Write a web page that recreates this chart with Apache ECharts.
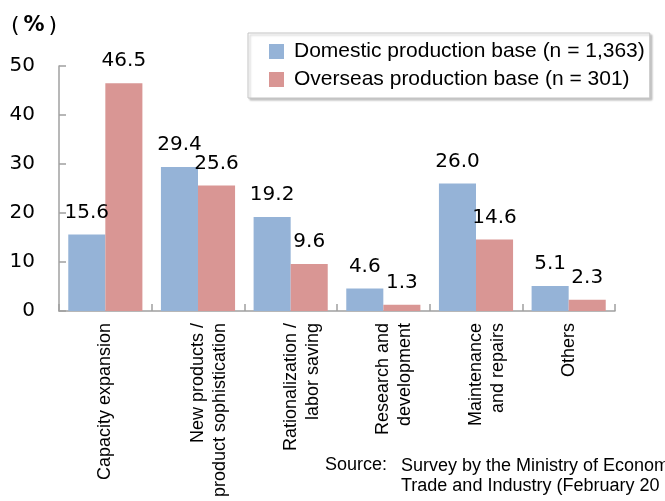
<!DOCTYPE html>
<html>
<head>
<meta charset="utf-8">
<script src="https://cdn.jsdelivr.net/npm/echarts@6/dist/echarts.min.js"></script>
<style>
  html, body { margin: 0; padding: 0; background: #fff; }
  #chart { width: 665px; height: 501px; }
</style>
</head>
<body>
<div id="chart"></div>
<script>
// Reasons for capital investment, by production base (%)
const categories = [
  'Capacity expansion',
  'New products /\nproduct sophistication',
  'Rationalization /\nlabor saving',
  'Research and\ndevelopment',
  'Maintenance\nand repairs',
  'Others'
];
const domestic = [15.6, 29.4, 19.2, 4.6, 26.0, 5.1];
const overseas = [46.5, 25.6, 9.6, 1.3, 14.6, 2.3];
const seriesNames = [
  'Domestic production base (n = 1,363)',
  'Overseas production base (n = 301)'
];
const yTicks = { min: 0, max: 50, interval: 10 };

const BLUE = '#95b3d7';
const RED = '#d99694';
const AXIS = '#a0a0a0';
const NUM = '"DejaVu Sans", sans-serif';
const SANS = '"Liberation Sans", Arial, sans-serif';

const chart = echarts.init(document.getElementById('chart'), null, { renderer: 'canvas' });

const valueLabel = {
  show: true,
  position: 'top',
  distance: 12,
  color: '#000',
  fontFamily: NUM,
  fontSize: 20,
  formatter: p => p.value.toFixed(1)
};

chart.setOption({
  animation: false,
  backgroundColor: '#fff',
  grid: { left: 59, right: 50, top: 66, bottom: 190, containLabel: false },
  legend: {
    orient: 'vertical',
    left: 248,
    top: 33,
    padding: [8, 5, 8, 21],
    itemGap: 7,
    itemWidth: 15,
    itemHeight: 15,
    icon: 'rect',
    borderColor: '#c4c4c4',
    borderWidth: 1,
    backgroundColor: '#fff',
    shadowColor: 'rgba(0,0,0,0.22)',
    shadowBlur: 2,
    shadowOffsetX: 2,
    shadowOffsetY: 2,
    textStyle: { fontFamily: SANS, fontSize: 21, color: '#000', padding: [0, 0, 0, 5] },
    data: seriesNames
  },
  xAxis: {
    type: 'category',
    data: categories,
    axisLine: { lineStyle: { color: AXIS, width: 1.5 } },
    axisTick: { show: true, inside: true, length: 7, lineStyle: { color: AXIS, width: 1.5 } },
    axisLabel: {
      interval: 0,
      rotate: 90,
      margin: 12,
      color: '#000',
      fontFamily: SANS,
      fontSize: 18,
      lineHeight: 22,
      // two-line labels keep their first line on the category centre
      formatter: v => (v.indexOf('\n') >= 0 ? '\n' + v : v)
    },
    splitLine: { show: false }
  },
  yAxis: {
    type: 'value',
    min: yTicks.min,
    max: yTicks.max,
    interval: yTicks.interval,
    axisLine: { show: true, lineStyle: { color: AXIS, width: 1.5 } },
    axisTick: { show: true, inside: true, length: 7, lineStyle: { color: AXIS, width: 1.5 } },
    axisLabel: { margin: 24, color: '#000', fontFamily: NUM, fontSize: 20 },
    splitLine: { show: false }
  },
  series: [
    {
      name: seriesNames[0],
      type: 'bar',
      data: domestic,
      barGap: '0%',
      barCategoryGap: '20%',
      itemStyle: { color: BLUE },
      label: valueLabel
    },
    {
      name: seriesNames[1],
      type: 'bar',
      data: overseas,
      barGap: '0%',
      barCategoryGap: '20%',
      itemStyle: { color: RED },
      label: valueLabel
    }
  ],
  graphic: [
    {
      type: 'text', left: 11, top: 15,
      style: {
        text: '{p|(}{b|%}{p|)}',
        rich: {
          p: { fontFamily: NUM, fontSize: 22, fill: '#000' },
          b: { fontFamily: NUM, fontSize: 21, fontWeight: 'bold', fill: '#000', padding: [0, 4, 0, 4] }
        }
      }
    },
    {
      type: 'text', left: 325, top: 456,
      style: { text: 'Source:', font: '18px ' + SANS, fill: '#000' }
    },
    {
      type: 'text', left: 401, top: 456,
      style: {
        text: 'Survey by the Ministry of Economy,\nTrade and Industry (February 20',
        font: '18px ' + SANS, lineHeight: 20, fill: '#000'
      }
    }
  ]
});
</script>
</body>
</html>
